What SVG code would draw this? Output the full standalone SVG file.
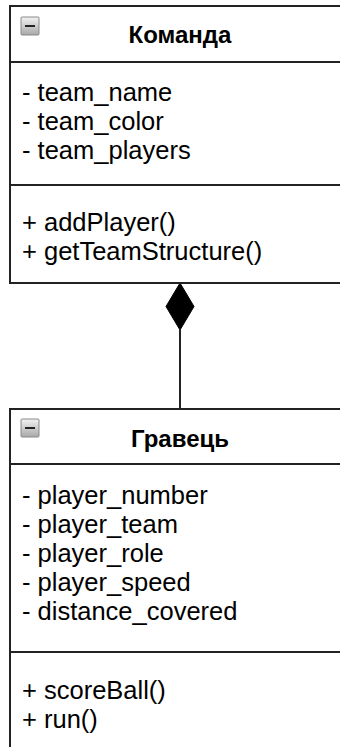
<svg xmlns="http://www.w3.org/2000/svg" width="340" height="747" viewBox="0 0 340 747">
  <defs>
    <linearGradient id="ig" x1="0" y1="0" x2="0" y2="1">
      <stop offset="0" stop-color="#f2f2f2"/>
      <stop offset="1" stop-color="#a8a8a8"/>
    </linearGradient>
    <g id="icon">
      <rect x="0" y="0" width="18" height="18" rx="1" fill="url(#ig)" stroke="#8a8a8a" stroke-width="1"/>
      <line x1="4" y1="9" x2="14" y2="9" stroke="#222" stroke-width="2"/>
    </g>
  </defs>
  <style>
    .box { fill: #ffffff; stroke: #222222; stroke-width: 2; }
    .sep { stroke: #222222; stroke-width: 2; fill: none; }
    .title { font-family: "Liberation Sans", Arial, sans-serif; font-weight: bold; font-size: 24px; fill: #000; text-anchor: middle; }
    .item { font-family: "Liberation Sans", Arial, sans-serif; font-size: 25.5px; fill: #000; }
    .conn { stroke: #222222; stroke-width: 2; fill: none; }
  </style>
  <rect width="340" height="747" fill="#ffffff"/>

  <g id="connectors">
    <line class="conn" x1="180" y1="330" x2="180" y2="409"/>
    <polygon points="180,283 194,306.5 180,330 166,306.5" fill="#000" stroke="#000" stroke-width="1"/>
  </g>

  <g id="komanda">
    <rect class="box" x="10" y="6" width="340" height="277"/>
    <line class="sep" x1="10" y1="62" x2="350" y2="62"/>
    <line class="sep" x1="10" y1="185" x2="350" y2="185"/>
    <use href="#icon" x="21" y="17"/>
    <text class="title" x="180" y="43">Команда</text>
    <text class="item" x="22" y="101">- team_name</text>
    <text class="item" x="22" y="130">- team_color</text>
    <text class="item" x="22" y="159">- team_players</text>
    <text class="item" x="22" y="231">+ addPlayer()</text>
    <text class="item" x="22" y="260">+ getTeamStructure()</text>
  </g>

  <g id="hravets">
    <rect class="box" x="10" y="409" width="340" height="400"/>
    <line class="sep" x1="10" y1="464" x2="350" y2="464"/>
    <line class="sep" x1="10" y1="652" x2="350" y2="652"/>
    <use href="#icon" x="21" y="419"/>
    <text class="title" x="180" y="447">Гравець</text>
    <text class="item" x="22" y="504">- player_number</text>
    <text class="item" x="22" y="533">- player_team</text>
    <text class="item" x="22" y="562">- player_role</text>
    <text class="item" x="22" y="591">- player_speed</text>
    <text class="item" x="22" y="620">- distance_covered</text>
    <text class="item" x="22" y="699">+ scoreBall()</text>
    <text class="item" x="22" y="728">+ run()</text>
  </g>
</svg>
